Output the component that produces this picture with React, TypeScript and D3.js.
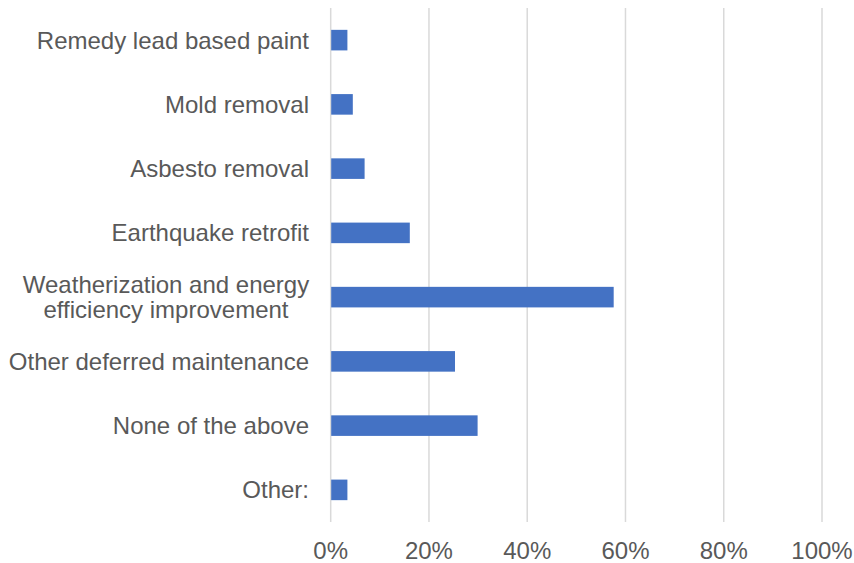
import React from "react";
import * as d3 from "d3";

const categories: string[][] = [
  ["Remedy lead based paint"],
  ["Mold removal"],
  ["Asbesto removal"],
  ["Earthquake retrofit"],
  ["Weatherization and energy", "efficiency improvement"],
  ["Other deferred maintenance"],
  ["None of the above"],
  ["Other:"],
];
const values: number[] = [3.4, 4.5, 6.9, 16.1, 57.6, 25.3, 29.9, 3.4];
const ticks: number[] = [0, 20, 40, 60, 80, 100];

const W = 854;
const H = 563;
const left = 330.7;
const right = 822;
const top = 8;
const bottom = 522;
const font = "'Liberation Sans', Arial, sans-serif";

export default function App() {
  const x = d3.scaleLinear().domain([0, 100]).range([left, right]);
  const idx = categories.map((_, i) => String(i));
  const y = d3
    .scaleBand<string>()
    .domain(idx)
    .range([top, bottom])
    .paddingInner(0.68)
    .paddingOuter(0.34);
  const step = y.step();

  return (
    <div style={{ position: "absolute", left: 0, top: 0 }}>
      <svg width={W} height={H} style={{ display: "block", background: "#fff" }}>
        {ticks.map((t) => (
          <line
            key={"g" + t}
            x1={x(t)}
            x2={x(t)}
            y1={top}
            y2={bottom}
            stroke="#d9d9d9"
            strokeWidth={1.5}
          />
        ))}
        {values.map((v, i) => (
          <rect
            key={"b" + i}
            x={x(0) + 0.5}
            y={y(String(i))}
            width={x(v) - x(0) - 0.5}
            height={y.bandwidth()}
            fill="#4472C4"
          />
        ))}
        {categories.map((lines, i) => {
          const cy = (y(String(i)) as number) + y.bandwidth() / 2;
          const lh = 25;
          const n = lines.length;
          if (n === 1) {
            return (
              <text
                key={"c" + i}
                x={309}
                y={cy}
                dy="0.35em"
                textAnchor="end"
                fontFamily={font}
                fontSize={24}
                fill="#595959"
              >
                {lines[0]}
              </text>
            );
          }
          return (
            <text
              key={"c" + i}
              fontFamily={font}
              fontSize={24}
              fill="#595959"
              textAnchor="middle"
              x={166}
            >
              {lines.map((l, k) => (
                <tspan key={k} x={166} y={cy + (k - (n - 1) / 2) * lh} dy="0.35em">
                  {l}
                </tspan>
              ))}
            </text>
          );
        })}
        {ticks.map((t) => (
          <text
            key={"t" + t}
            x={x(t)}
            y={559}
            textAnchor="middle"
            fontFamily={font}
            fontSize={24}
            fill="#595959"
          >
            {t + "%"}
          </text>
        ))}
      </svg>
    </div>
  );
}
